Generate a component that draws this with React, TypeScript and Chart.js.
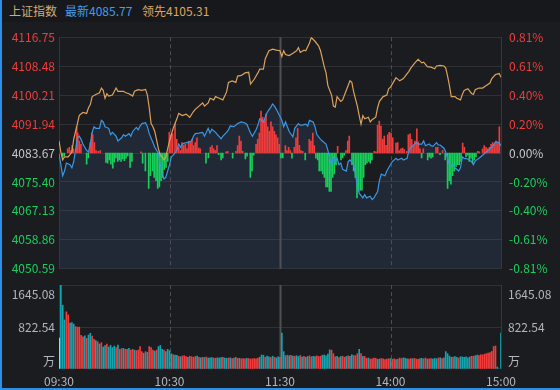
import React, { useEffect, useRef } from 'react';
import { Chart, registerables } from 'chart.js';

Chart.register(...registerables);

const FONT = "'Noto Sans CJK SC', 'Noto Sans', sans-serif";

// ---- labels / ticks ----
const INDEX_NAME = '上证指数';
const LAST_LABEL = '最新';
const LAST_VALUE = '4085.77';
const LEAD_LABEL = '领先';
const LEAD_VALUE = '4105.31';
const PREV_CLOSE = 4083.67;
const PRICE_TICKS = [4116.75, 4108.48, 4100.21, 4091.94, 4083.67, 4075.4, 4067.13, 4058.86, 4050.59];
const PCT_LABELS = ['0.81%', '0.61%', '0.40%', '0.20%', '0.00%', '-0.20%', '-0.40%', '-0.61%', '-0.81%'];
const TIME_TICKS = [0, 60, 120, 180, 240];
const TIME_LABELS = ['09:30', '10:30', '11:30', '14:00', '15:00'];
const VOL_TICKS = [0, 822.54, 1645.08];
const VOL_LABELS = ['万', '822.54', '1645.08'];

// ---- series: [minute index, value] ----
const pricePoints: [number, number][] = [
  [0,4083.51],[1,4080.34],[2,4077.17],[3,4078.52],[4,4080.80],[6,4080.34],[7,4079.44],[8,4081.23],[10,4088.01],[11,4088.47],
  [12,4087.57],[13,4086.22],[15,4084.40],[16,4083.94],[17,4086.22],[18,4089.55],[19,4091.18],[20,4090.72],[22,4090.72],[23,4093.00],
  [24,4092.54],[25,4091.18],[27,4090.72],[28,4088.93],[29,4089.55],[31,4088.47],[32,4087.11],[34,4088.01],[35,4088.93],[36,4088.47],
  [38,4089.20],[39,4088.47],[40,4089.82],[42,4090.99],[43,4090.29],[44,4091.37],[45,4092.08],[47,4092.35],[48,4091.18],[49,4089.20],
  [51,4086.65],[52,4085.30],[54,4083.51],[55,4080.34],[56,4077.62],[57,4076.27],[58,4076.73],[60,4080.34],[61,4082.59],[62,4083.05],
  [64,4084.40],[65,4086.22],[66,4085.30],[67,4086.22],[69,4086.65],[70,4086.65],[72,4087.11],[73,4088.47],[74,4089.20],[76,4089.36],
  [78,4089.55],[79,4088.47],[81,4090.72],[82,4089.36],[83,4090.45],[85,4089.55],[86,4088.93],[88,4087.74],[89,4088.47],[91,4089.55],
  [92,4090.29],[93,4091.37],[95,4091.18],[97,4092.08],[99,4092.54],[101,4092.26],[102,4091.91],[104,4089.36],[105,4088.47],[107,4090.29],
  [108,4091.64],[109,4093.43],[111,4092.54],[112,4093.89],[113,4095.25],[115,4096.79],[116,4097.69],[117,4097.06],[118,4096.14],[120,4094.08],
  [121,4093.00],[122,4091.18],[123,4092.54],[124,4091.18],[125,4089.82],[127,4088.28],[128,4090.72],[130,4092.08],[131,4091.64],[132,4091.64],
  [134,4091.91],[135,4091.37],[136,4093.00],[138,4092.54],[139,4091.18],[140,4088.93],[142,4087.57],[143,4087.11],[145,4086.22],[146,4084.40],
  [147,4082.15],[148,4080.34],[149,4082.59],[150,4081.23],[151,4082.15],[152,4080.34],[153,4080.80],[154,4078.98],[156,4078.52],[157,4081.23],
  [158,4081.69],[160,4080.34],[161,4077.62],[162,4074.02],[163,4072.20],[165,4070.84],[166,4071.74],[167,4070.84],[169,4071.31],[170,4070.38],
  [171,4070.84],[173,4072.66],[174,4075.81],[175,4077.62],[177,4077.17],[178,4078.52],[179,4079.44],[181,4081.23],[183,4082.15],[184,4081.69],
  [186,4082.15],[187,4081.69],[189,4082.15],[190,4084.40],[191,4085.30],[192,4085.76],[194,4086.65],[195,4086.22],[197,4086.22],[198,4087.11],
  [199,4085.76],[201,4086.22],[202,4085.76],[203,4085.57],[205,4086.65],[206,4085.95],[207,4085.95],[209,4085.03],[210,4083.94],[211,4082.15],
  [212,4080.34],[213,4079.88],[214,4080.34],[215,4079.44],[217,4078.52],[218,4079.44],[219,4082.59],[220,4082.15],[222,4081.96],[224,4081.23],
  [225,4080.34],[226,4081.42],[228,4082.15],[230,4083.05],[232,4083.94],[234,4084.86],[236,4085.95],[237,4086.84],[239,4086.65],[240,4085.77],
];

const leadPoints: [number, number][] = [
  [0,4087.11],[1,4083.94],[2,4081.69],[3,4082.59],[5,4082.59],[7,4083.94],[8,4087.66],[10,4092.08],[11,4094.43],[13,4095.25],
  [15,4094.98],[16,4096.60],[17,4097.50],[18,4099.78],[20,4100.40],[22,4100.86],[23,4102.22],[24,4101.57],[25,4099.31],[26,4100.59],
  [27,4099.94],[29,4100.21],[31,4102.22],[32,4101.29],[35,4101.29],[36,4100.94],[38,4100.59],[40,4099.94],[41,4101.29],[43,4101.75],
  [45,4101.57],[47,4101.84],[48,4100.21],[49,4096.60],[50,4092.08],[51,4091.18],[52,4089.82],[54,4084.86],[55,4083.05],[56,4082.59],
  [57,4081.69],[58,4082.59],[60,4087.11],[62,4090.72],[64,4093.43],[65,4094.98],[67,4094.35],[69,4094.79],[71,4093.89],[73,4095.52],
  [74,4096.14],[76,4097.06],[78,4097.96],[79,4097.06],[81,4097.96],[82,4099.31],[84,4098.85],[85,4099.78],[87,4099.31],[89,4098.85],
  [91,4101.13],[92,4103.84],[94,4104.28],[96,4103.84],[97,4105.63],[99,4105.82],[101,4106.55],[103,4106.72],[104,4103.38],[106,4104.74],
  [108,4106.55],[109,4107.64],[111,4107.64],[112,4110.62],[114,4112.87],[116,4113.33],[118,4113.06],[120,4112.87],[121,4111.25],[122,4112.87],
  [123,4111.79],[125,4111.52],[127,4112.14],[129,4112.87],[130,4113.77],[131,4112.41],[133,4113.06],[134,4112.87],[136,4115.12],[137,4116.67],
  [139,4115.59],[141,4114.23],[142,4112.87],[143,4110.62],[144,4108.34],[145,4106.55],[146,4102.92],[148,4100.21],[149,4097.06],[150,4096.79],
  [151,4099.78],[153,4098.42],[154,4098.85],[156,4101.57],[158,4104.28],[159,4103.84],[160,4101.13],[162,4097.06],[163,4094.35],[164,4091.91],
  [165,4094.35],[166,4093.43],[168,4093.89],[169,4092.54],[170,4093.16],[172,4093.89],[173,4096.60],[174,4098.42],[176,4099.78],[178,4100.21],
  [179,4102.03],[180,4102.49],[182,4104.28],[183,4105.20],[185,4104.28],[187,4104.93],[188,4105.63],[190,4106.99],[191,4107.91],[193,4109.27],
  [195,4110.43],[197,4109.43],[198,4109.62],[200,4108.34],[202,4108.18],[204,4107.72],[205,4108.53],[207,4108.72],[209,4108.53],[210,4107.91],
  [211,4105.63],[212,4102.92],[213,4099.78],[215,4099.78],[216,4099.31],[218,4098.85],[219,4100.40],[220,4101.57],[222,4102.03],[224,4100.67],
  [225,4100.40],[226,4101.75],[228,4102.22],[230,4102.22],[232,4102.92],[234,4103.65],[235,4104.93],[237,4106.09],[239,4106.36],[240,4105.31],
];

// red / green strength bars: [minute, difference from previous close]
const forceBars: [number, number][] = [
  [2.0,-1.1],[2.9,-0.8],[4.7,1.2],[5.6,1.6],[6.5,0.7],[7.1,2.1],[7.8,1.2],[9.6,7.5],[10.2,5.7],[11.0,3.4],[11.9,2.5],
  [15.0,-3.2],[15.9,-1.4],[17.0,3.0],[17.8,5.7],[18.3,5.2],[19.2,3.0],[20.1,0.7],[21.3,0.5],[22.4,0.7],[25.5,-2.7],
  [26.4,-2.9],[27.3,-2.0],[28.2,-3.2],[29.2,-4.3],[30.0,-2.6],[30.9,-1.4],[31.9,-2.4],[32.7,-2.0],[33.7,-2.4],[34.6,-1.7],
  [35.5,-2.2],[36.4,-1.5],[37.3,-0.8],[38.6,-4.1],[39.6,-2.4],[44.5,0.3],[45.4,-2.9],[46.9,-5.1],[48.7,-10.1],[49.6,-6.5],
  [50.9,-5.1],[51.7,-7.0],[52.7,-7.9],[53.6,-10.1],[54.5,-9.7],[55.4,-7.9],[56.3,-7.0],[57.2,-4.7],[58.1,-4.1],[59.0,-2.4],
  [59.9,5.9],[60.8,5.2],[61.7,5.5],[63.0,8.4],[63.9,3.9],[65.0,1.6],[65.9,0.7],[66.8,3.0],[67.7,2.1],[68.6,2.5],
  [69.5,1.2],[70.4,3.4],[71.3,3.0],[72.2,3.9],[73.1,2.1],[74.0,3.0],[74.9,4.3],[75.9,1.4],[76.7,1.2],[79.8,-2.9],
  [81.1,-1.4],[82.2,1.6],[83.1,2.1],[84.0,1.2],[84.9,0.7],[85.8,2.1],[86.7,-0.5],[88.0,-2.0],[88.9,-1.4],[90.7,0.3],
  [91.6,0.5],[94.3,-1.5],[96.1,0.5],[97.0,2.1],[97.9,4.8],[98.8,3.4],[99.7,0.5],[101.2,-1.7],[102.1,-0.9],[103.9,-7.0],
  [104.8,-5.1],[105.7,-0.6],[107.0,2.5],[107.9,3.9],[108.8,5.7],[109.7,12.0],[110.6,10.2],[111.5,9.3],[112.4,11.1],[113.3,7.5],
  [114.2,6.2],[115.1,8.9],[116.0,7.5],[116.9,6.2],[117.8,5.2],[118.7,4.3],[119.6,2.5],[120.5,-1.4],[121.5,-1.4],[122.9,2.1],
  [123.8,0.7],[124.7,1.6],[125.6,0.7],[126.5,-1.5],[127.8,1.6],[128.7,4.3],[129.6,7.0],[130.5,2.2],[131.4,0.7],[132.3,0.5],
  [133.7,-2.0],[135.9,3.9],[136.8,3.4],[137.8,5.7],[138.6,2.1],[139.5,-1.5],[140.5,-2.0],[141.3,-5.1],[142.3,-5.1],[143.2,-6.0],
  [144.1,-7.0],[145.0,-9.7],[145.9,-9.7],[146.8,-11.0],[147.7,-11.0],[148.6,-7.0],[149.5,-6.0],[150.4,-3.3],[151.3,1.9],[153.1,-2.0],
  [154.0,-1.4],[154.9,-0.6],[155.8,0.7],[156.8,3.4],[157.6,4.8],[159.1,-3.3],[160.0,-5.1],[160.9,-7.0],[161.8,-12.8],[162.7,-11.0],
  [163.6,-10.6],[164.5,-10.6],[165.4,-7.0],[166.3,-3.3],[167.2,-2.9],[168.2,-2.4],[169.0,-2.9],[169.9,-2.0],[171.2,0.5],[172.1,0.3],
  [173.0,7.9],[173.9,9.1],[174.8,7.7],[175.8,3.9],[176.6,4.8],[177.6,2.2],[178.5,5.2],[179.3,5.9],[180.3,5.7],[181.2,4.3],
  [183.0,2.8],[183.9,3.0],[184.8,0.7],[185.7,1.2],[186.6,1.4],[187.5,1.0],[188.8,0.5],[189.7,5.2],[190.6,5.5],[191.5,3.9],
  [192.4,2.1],[193.3,3.4],[194.3,6.9],[195.1,3.2],[196.0,1.2],[196.9,-1.4],[197.8,1.2],[200.2,-2.0],[201.1,-1.1],[202.0,-1.5],
  [202.9,-1.1],[204.7,1.6],[205.6,1.6],[206.9,-0.5],[208.3,0.7],[209.7,-2.0],[211.0,-10.1],[211.9,-7.9],[212.8,-8.9],[213.7,-6.5],
  [214.6,-5.1],[215.6,-3.8],[216.5,-3.3],[217.4,-3.3],[218.3,-2.4],[219.2,2.8],[220.1,1.6],[221.0,-1.1],[221.9,-0.6],[222.8,-2.4],
  [223.7,-1.5],[224.6,-2.9],[225.5,-2.0],[226.4,-1.1],[227.4,0.5],[228.2,0.3],[230.0,1.2],[230.9,2.1],[231.9,1.6],[232.8,1.2],
  [233.7,1.6],[234.6,2.5],[235.5,3.0],[236.4,2.5],[237.3,3.4],[238.3,3.0],[239.1,7.5],
];

// volume per minute (万), index 0 = opening auction
const volumes: number[] = [
  607,
  1645,1250,960,1120,1060,900,910,880,830,820,
  820,660,630,650,600,665,700,645,580,555,
  535,490,515,430,460,490,430,465,420,450,
  420,470,385,400,405,385,385,405,370,385,
  370,360,370,440,340,310,340,325,440,420,
  370,350,370,440,460,385,370,340,385,360,
  300,280,275,270,250,240,255,260,245,230,
  250,240,230,245,255,230,220,230,225,235,
  215,220,225,215,210,220,215,225,230,215,
  210,215,220,205,215,230,210,210,200,205,
  200,210,205,195,200,205,200,215,230,275,
  270,230,255,240,225,250,230,220,240,230,
  705,340,260,270,260,270,255,250,260,245,
  265,235,250,230,245,255,240,250,245,260,
  245,250,270,275,260,290,375,370,300,240,
  250,225,245,250,230,245,260,250,280,265,
  260,300,385,300,250,245,210,215,195,200,
  215,210,190,195,205,200,185,195,200,205,
  190,200,185,195,215,205,220,210,200,195,
  205,200,210,195,190,205,210,200,215,195,
  200,205,195,210,200,215,220,205,220,340,
  300,255,230,235,245,230,215,240,235,230,
  240,220,235,250,250,260,275,265,280,275,
  290,300,310,320,345,440,450,40,0,705,
];
// w = auction, r = up minute, t = down minute
const volumeColors =
  'w' +
  'tttrrtttrr' + 'rrrtrttrrt' + 'rtrttrtttt' + 'rtrrtrrtrr' + 'trrrrtrtrr' + 'rtrtttrttt' +
  'trttrtrrrt' + 'rrrrtrtrtr' + 'tttrrtttrt' + 'trtrtrrtrr' + 'rtrrrrrrtt' + 'trttrtrttr' +
  'tttrtrtrtt' + 'rtrttrrttr' + 'rrtttttrrr' + 'trtrrtrttr' + 'rrtrtrrtrr' + 'rrttrrrrrt' +
  'rrtrrrtttr' + 'rtrrrttrrt' + 'rrtttrtrtt' + 'tttrttrttt' + 'tttrrttrrr' + 'rrrrrrrttt';

// ---- palette ----
const BG = '#1b1c20';
const HEADER_BG = '#17181b';
const GRID = '#303135';
const RED = '#f23c3c';
const GREEN = '#19cf5c';
const NEUTRAL = '#c3c7ce';
const AXIS_GRAY = '#b3b6bc';
const BLUE_LINE = '#3a97e6';
const ORANGE = '#dca25c';
const FILL = 'rgba(56, 92, 135, 0.22)';
const VOL_RED = '#f43c3c';
const VOL_TEAL = '#12a6b2';
const EDGE_BLUE = '#2d8fec';

const tickColor = (v: number) =>
  Math.abs(v - PREV_CLOSE) < 1e-6 ? NEUTRAL : v > PREV_CLOSE ? RED : GREEN;

const vLines = {
  id: 'vLines',
  beforeDatasetsDraw(chart: any) {
    const { ctx, chartArea, scales } = chart;
    const xs = scales.x;
    ctx.save();
    TIME_TICKS.forEach((t, i) => {
      const px = Math.round(xs.getPixelForValue(t)) + 0.5;
      ctx.beginPath();
      if (i === 1 || i === 3) {
        ctx.setLineDash([4, 3]);
        ctx.strokeStyle = '#4b4d52';
        ctx.lineWidth = 1;
      } else if (i === 2) {
        ctx.setLineDash([]);
        ctx.strokeStyle = '#4e5055';
        ctx.lineWidth = 2;
      } else {
        ctx.setLineDash([]);
        ctx.strokeStyle = '#36373b';
        ctx.lineWidth = 1;
      }
      ctx.moveTo(px, chartArea.top);
      ctx.lineTo(px, chartArea.bottom);
      ctx.stroke();
    });
    ctx.restore();
  },
};

const volLabels = {
  id: 'volLabels',
  afterDraw(chart: any) {
    const { ctx, chartArea, scales } = chart;
    const ys = scales.y;
    const offsets = [-8, 0, 9];
    ctx.save();
    ctx.font = `12px ${FONT}`;
    ctx.fillStyle = AXIS_GRAY;
    ctx.textBaseline = 'middle';
    VOL_TICKS.forEach((v, i) => {
      const py = ys.getPixelForValue(v) + offsets[i];
      ctx.textAlign = 'right';
      ctx.fillText(VOL_LABELS[i], chartArea.left - 4, py);
      ctx.textAlign = 'left';
      ctx.fillText(VOL_LABELS[i], chartArea.right + 7, py);
    });
    ctx.restore();
  },
};

export default function App() {
  const mainRef = useRef<HTMLCanvasElement>(null);
  const volRef = useRef<HTMLCanvasElement>(null);

  useEffect(() => {
    document.body.style.margin = '0';
    document.body.style.background = BG;
    const priceMin = PRICE_TICKS[PRICE_TICKS.length - 1];
    const priceMax = PRICE_TICKS[0];
    const setPriceTicks = (s: any) => {
      s.ticks = [...PRICE_TICKS].reverse().map((v) => ({ value: v }));
    };

    const main = new Chart(mainRef.current as HTMLCanvasElement, {
      type: 'line',
      data: {
        datasets: [
          {
            type: 'bar',
            data: forceBars.map(([m, d]) => ({ x: m, y: [PREV_CLOSE, PREV_CLOSE + d] })) as any,
            backgroundColor: forceBars.map(([, d]) => (d >= 0 ? RED : GREEN)),
            barThickness: 1,
            order: 3,
          } as any,
          {
            data: pricePoints.map(([x, y]) => ({ x, y })),
            borderColor: BLUE_LINE,
            borderWidth: 1.2,
            pointRadius: 0,
            tension: 0,
            fill: 'start',
            backgroundColor: FILL,
            order: 2,
          },
          {
            data: leadPoints.map(([x, y]) => ({ x, y })),
            borderColor: ORANGE,
            borderWidth: 1.2,
            pointRadius: 0,
            tension: 0,
            fill: false,
            order: 1,
          },
        ],
      },
      options: {
        animation: false,
        responsive: false,
        events: [],
        layout: { padding: { top: 9, bottom: 9, left: 0, right: 0 } },
        plugins: {
          legend: { display: false },
          tooltip: { enabled: false },
          filler: { drawTime: 'beforeDatasetsDraw' } as any,
        },
        scales: {
          x: { type: 'linear', min: 0, max: 240, offset: false, display: false },
          y: {
            position: 'left',
            min: priceMin,
            max: priceMax,
            afterBuildTicks: setPriceTicks,
            afterFit: (s: any) => { s.width = 59; },
            grid: { color: GRID, drawTicks: false },
            border: { display: false },
            ticks: {
              padding: 4,
              font: { size: 12, family: FONT },
              color: (c: any) => tickColor(c.tick.value),
              callback: (v: any) => Number(v).toFixed(2),
            },
          },
          y2: {
            position: 'right',
            min: priceMin,
            max: priceMax,
            afterBuildTicks: setPriceTicks,
            afterFit: (s: any) => { s.width = 59; },
            grid: { display: false, drawTicks: false },
            border: { display: false },
            ticks: {
              padding: 8,
              font: { size: 12, family: FONT },
              color: (c: any) => tickColor(c.tick.value),
              callback: (v: any) =>
                PCT_LABELS[PRICE_TICKS.findIndex((p) => Math.abs(p - Number(v)) < 1e-6)],
            },
          },
        },
      },
      plugins: [vLines],
    } as any);

    const vol = new Chart(volRef.current as HTMLCanvasElement, {
      type: 'bar',
      data: {
        datasets: [
          {
            data: volumes.map((v, i) => ({ x: i, y: v })) as any,
            backgroundColor: volumes.map((_, i) => {
              const c = volumeColors[i];
              return c === 'w' ? '#e6e6e6' : c === 'r' ? VOL_RED : VOL_TEAL;
            }),
            barThickness: 1,
          },
        ],
      },
      options: {
        animation: false,
        responsive: false,
        events: [],
        layout: { padding: { top: 5, bottom: 0, left: 0, right: 0 } },
        plugins: { legend: { display: false }, tooltip: { enabled: false } },
        scales: {
          x: {
            type: 'linear',
            min: 0,
            max: 240,
            offset: false,
            afterBuildTicks: (s: any) => { s.ticks = TIME_TICKS.map((v) => ({ value: v })); },
            afterFit: (s: any) => { s.height = 21; },
            grid: { display: false, drawTicks: false },
            border: { display: false },
            ticks: {
              padding: 5,
              maxRotation: 0,
              autoSkip: false,
              color: AXIS_GRAY,
              font: { size: 12, family: FONT },
              callback: (v: any) => TIME_LABELS[TIME_TICKS.indexOf(Number(v))],
            },
          },
          y: {
            position: 'left',
            min: 0,
            max: VOL_TICKS[2],
            afterBuildTicks: (s: any) => { s.ticks = VOL_TICKS.map((v) => ({ value: v })); },
            afterFit: (s: any) => { s.width = 59; },
            grid: { color: (c: any) => (c.tick && c.tick.value === 0 ? 'rgba(0,0,0,0)' : GRID), drawTicks: false },
            border: { display: false },
            ticks: { display: false },
          },
          y2: {
            position: 'right',
            min: 0,
            max: VOL_TICKS[2],
            afterFit: (s: any) => { s.width = 59; },
            grid: { display: false, drawTicks: false },
            border: { display: false },
            ticks: { display: false },
          },
        },
      },
      plugins: [vLines, volLabels],
    } as any);

    return () => {
      main.destroy();
      vol.destroy();
    };
  }, []);

  const headerText = { position: 'absolute' as const, top: 0, lineHeight: '22px', fontSize: 12 };

  return (
    <div
      style={{
        position: 'relative',
        width: 560,
        height: 390,
        background: BG,
        overflow: 'hidden',
        fontFamily: FONT,
      }}
    >
      <div style={{ position: 'absolute', left: 0, top: 0, width: 560, height: 22, background: HEADER_BG }}>
        <span style={{ ...headerText, left: 9, color: '#d3ab74' }}>{INDEX_NAME}</span>
        <span style={{ ...headerText, left: 65, color: '#3f9cef' }}>{LAST_LABEL + LAST_VALUE}</span>
        <span style={{ ...headerText, left: 142, color: '#e0a35c' }}>{LEAD_LABEL + LEAD_VALUE}</span>
      </div>
      <canvas ref={mainRef} width={560} height={262} style={{ position: 'absolute', left: 0, top: 22 }} />
      <canvas ref={volRef} width={560} height={110} style={{ position: 'absolute', left: 0, top: 280 }} />
      <div style={{ position: 'absolute', left: 0, top: 0, width: 2, height: 390, background: EDGE_BLUE }} />
      <div style={{ position: 'absolute', left: 0, bottom: 0, width: 560, height: 2, background: EDGE_BLUE }} />
    </div>
  );
}
